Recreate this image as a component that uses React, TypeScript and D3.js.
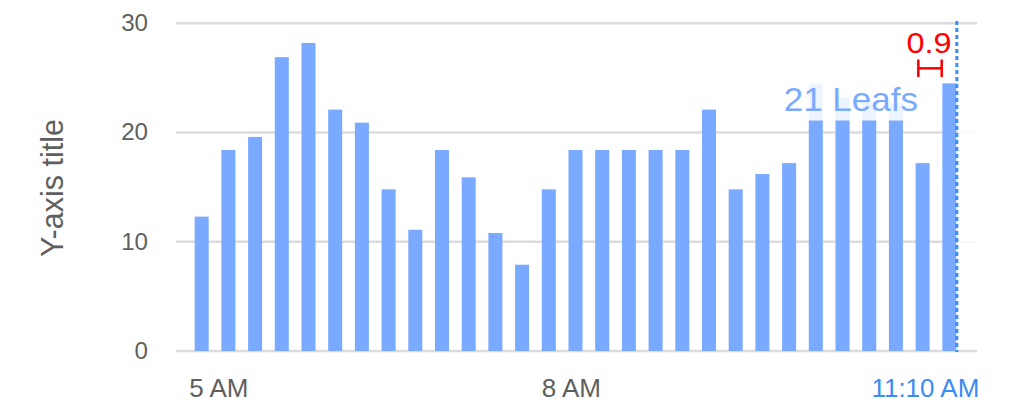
import React from "react";
import * as d3 from "d3";

const values = [12.3, 18.4, 19.6, 26.9, 28.2, 22.1, 20.9, 14.8, 11.1, 18.4, 15.9, 10.8, 7.9, 14.8, 18.4, 18.4, 18.4, 18.4, 18.4, 22.1, 14.8, 16.2, 17.2, 21.1, 21.1, 21.1, 21.1, 17.2, 24.5];
const ghostIndex = [23, 24, 25, 26];
const ghostValues = [24.5, 23.2, 22.7, 22.7];
const yTicks = [0, 10, 20, 30];
const xTickLabels = ["5 AM", "8 AM", "11:10 AM"];
const xTickIndex = [0, 13, 28];
const annotationLabel = "21 Leafs";
const errorLabel = "0.9";
const yTitle = "Y-axis title";

const W = 1018;
const H = 410;

export default function App() {
  const idx = values.map((_, i) => i);
  const x = d3.scaleBand<number>().domain(idx).range([188, 963]).paddingInner(0.475).paddingOuter(0.25);
  const y = d3.scaleLinear().domain([0, 30]).range([351, 23.3]);
  const bw = x.bandwidth();
  const last = values.length - 1;
  const lineX = (x(last) as number) + bw + 0.5;
  const gray = "#5f5f5f";
  const font = "'Liberation Sans', Arial, sans-serif";

  return (
    <svg width={W} height={H} style={{ position: "absolute", left: 0, top: 0 }} fontFamily={font}>
      <rect width={W} height={H} fill="#fff" />
      {yTicks.map((t) => (
        <line key={"g" + t} x1={176} x2={977} y1={y(t)} y2={y(t)} stroke="#dcdcdc" strokeWidth={2.5} />
      ))}
      {yTicks.map((t) => (
        <text key={"t" + t} transform={`translate(148,${y(t)}) scale(1.05,1)`} textAnchor="end" dominantBaseline="central" fontSize={23} fill={gray}>
          {t}
        </text>
      ))}
      <text transform={`translate(63,188) rotate(-90)`} textAnchor="middle" fontSize={30.5} fill={gray}>
        {yTitle}
      </text>
      {ghostIndex.map((gi, k) => (
        <rect key={"gh" + gi} x={x(gi)} width={bw} y={y(ghostValues[k])} height={y(0) - y(ghostValues[k])} fill="#eef4ff" />
      ))}
      {values.map((v, i) => (
        <rect key={i} x={x(i)} width={bw} y={y(v)} height={y(0) - y(v)} fill="#7aaaff" />
      ))}
      <rect x={lineX + 1.5} y={60} width={977 - lineX - 1.5} height={285} fill="#fff" opacity={0.8} />
      <text transform={`translate(918,111) scale(1.03,1)`} textAnchor="end" fontSize={34} fill="#7aaaff">
        {annotationLabel}
      </text>
      <line x1={lineX} x2={lineX} y1={21} y2={352} stroke="#3a8cf2" strokeWidth={3} strokeDasharray="4,3" />
      <text transform={`translate(951.5,52.5) scale(1.08,1)`} textAnchor="end" fontSize={30} fill="#ff0000">
        {errorLabel}
      </text>
      <g stroke="#ff0000" strokeWidth={2.5}>
        <line x1={918.3} x2={918.3} y1={59.5} y2={77} />
        <line x1={941.7} x2={941.7} y1={59.5} y2={77} />
        <line x1={918.3} x2={941.7} y1={68.3} y2={68.3} />
      </g>
      {xTickLabels.map((l, k) => {
        const i = xTickIndex[k];
        const isLast = k === xTickLabels.length - 1;
        const px = isLast ? (x(i) as number) + bw + 23 : (x(i) as number) - (k === 0 ? 5.5 : 0);
        return (
          <text key={l} transform={`translate(${px},397) scale(1.04,1)`} textAnchor={isLast ? "end" : "start"} fontSize={25} fill={isLast ? "#3a8cf2" : gray}>
            {l}
          </text>
        );
      })}
    </svg>
  );
}
